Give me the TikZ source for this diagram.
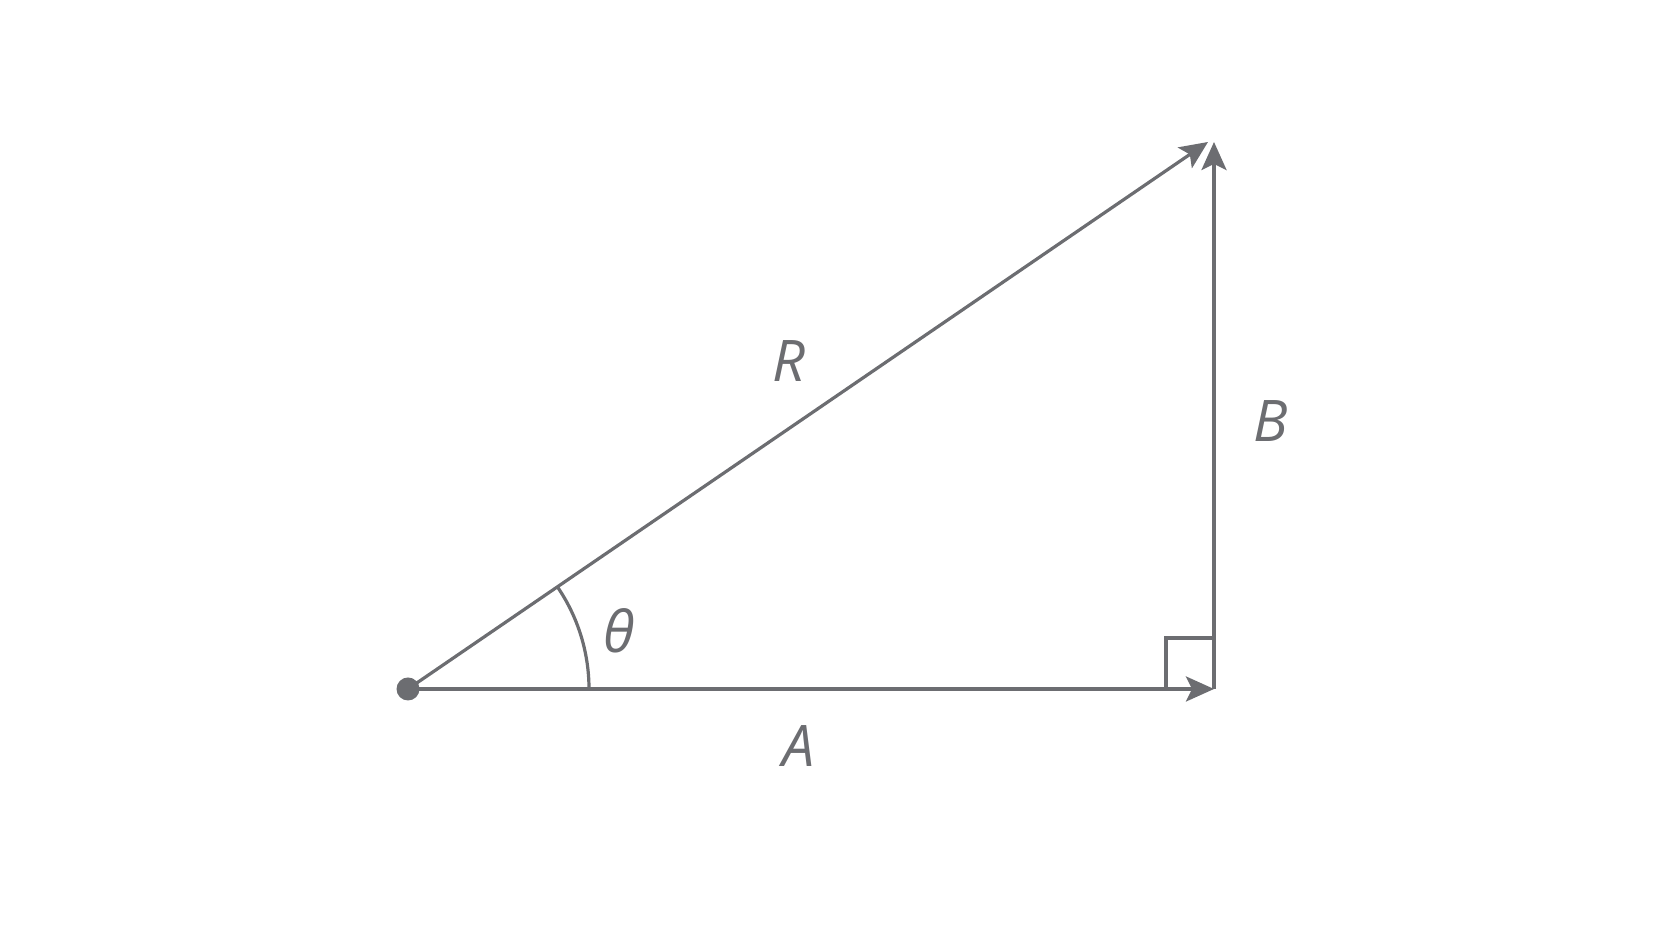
\documentclass[tikz,border=0pt]{standalone}
\usepackage{fontspec}
\setmainfont{Open Sans}
\usetikzlibrary{arrows.meta}
\definecolor{gristrait}{RGB}{108,109,113}
\begin{document}
\begin{tikzpicture}[x=0.5pt,y=0.5pt]
    \tikzstyle{vecteur}=[-{Stealth[length=14pt,width=12.5pt,inset=3pt]},line width=1.6pt,gristrait]
    \tikzstyle{lettre}=[text=gristrait,font=\fontsize{28.7}{34}\selectfont\itshape]
  \useasboundingbox (0,0) rectangle (1672,941);
  \coordinate (O) at (408,252);
  \coordinate (C) at (1214,252);
  \coordinate (Bfin) at (1214,799);
  \coordinate (Rfin) at (1208,799);
  \draw [line width=1.6pt,gristrait] (1166,252) |- (1214,303);
  \draw [line width=1.6pt,gristrait] (589,252) arc[start angle=0,end angle=34.4,radius=181];
  \draw [vecteur] (O) -- (C);
  \draw [vecteur] (C) -- (Bfin);
  \draw [vecteur] (O) -- (Rfin);
  \fill [gristrait] (O) circle (11.5);
  \node [lettre] (lR) at (789,580) {R};
  \node [lettre] (lB) at (1271,520) {B};
  \node [lettre] (lA) at (799,195) {A};
  \node [lettre] (ltheta) at (619,310) {θ};
\end{tikzpicture}
\end{document}
